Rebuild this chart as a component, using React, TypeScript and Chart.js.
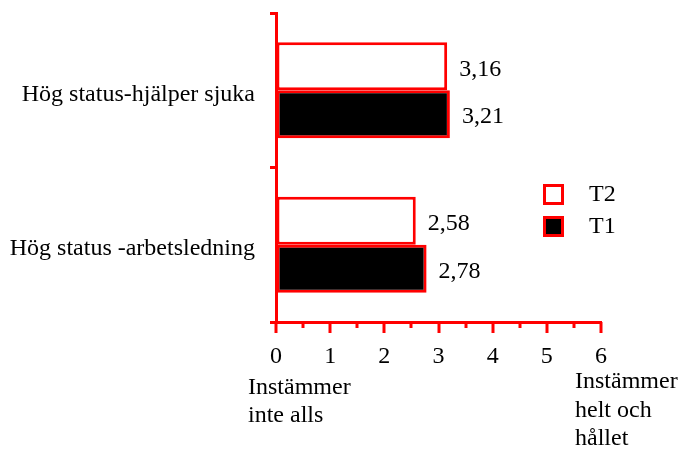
import { useEffect, useRef } from 'react';
import { Chart, registerables } from 'chart.js';

Chart.register(...registerables);

const categories = ['Hög status-hjälper sjuka', 'Hög status -arbetsledning'];
const seriesNames = ['T2', 'T1'];
const t2Values = [3.16, 2.58];
const t1Values = [3.21, 2.78];
const xMin = 0;
const xMax = 6;
const majorStep = 1;
const minorStep = 0.5;
const leftAxisNote = ['Instämmer', 'inte alls'];
const rightAxisNote = ['Instämmer', 'helt och', 'hållet'];

const RED = '#ff0000';
const FONT = '"Liberation Serif", "Times New Roman", serif';
const FS = 24;

const formatValue = (v: number) => v.toFixed(2).replace('.', ',');

const overlayPlugin = {
  id: 'overlay',
  afterDatasetsDraw(chart: any) {
    const ctx = chart.ctx;
    ctx.save();
    ctx.font = `${FS}px ${FONT}`;
    ctx.fillStyle = '#000';
    ctx.textAlign = 'left';
    ctx.textBaseline = 'middle';
    chart.data.datasets.forEach((ds: any, di: number) => {
      const meta = chart.getDatasetMeta(di);
      meta.data.forEach((el: any, i: number) => {
        ctx.fillText(formatValue(ds.data[i]), el.x + 12, el.y + 3);
      });
    });
    ctx.restore();
  },
  afterDraw(chart: any) {
    const ctx = chart.ctx;
    const xs = chart.scales.x;
    const area = chart.chartArea;
    ctx.save();
    ctx.strokeStyle = RED;
    ctx.lineWidth = 3;
    const axisY = area.bottom;
    for (let v = xMin; v <= xMax + 1e-9; v += minorStep) {
      const px = Math.round(xs.getPixelForValue(v));
      const isMajor = Math.abs(v / majorStep - Math.round(v / majorStep)) < 1e-9;
      const len = isMajor ? 11 : 6;
      ctx.beginPath();
      ctx.moveTo(px, axisY);
      ctx.lineTo(px, axisY + len);
      ctx.stroke();
    }
    ctx.font = `${FS}px ${FONT}`;
    ctx.fillStyle = '#000';
    ctx.textAlign = 'left';
    ctx.textBaseline = 'alphabetic';
    const x0 = xs.getPixelForValue(xMin);
    const x6 = xs.getPixelForValue(xMax);
    leftAxisNote.forEach((t, i) => ctx.fillText(t, x0 - 28, 394 + i * 28));
    rightAxisNote.forEach((t, i) => ctx.fillText(t, x6 - 26, 388 + i * 28.5));
    const legendFill = ['#ffffff', '#000000'];
    seriesNames.forEach((name, i) => {
      const by = 184 + i * 32;
      ctx.fillStyle = legendFill[i];
      ctx.fillRect(543, by, 21, 21);
      ctx.strokeStyle = RED;
      ctx.lineWidth = 3;
      ctx.strokeRect(544.5, by + 1.5, 18, 18);
      ctx.fillStyle = '#000';
      ctx.textBaseline = 'middle';
      ctx.fillText(name, 589, by + 11);
    });
    ctx.restore();
  },
};

export default function App() {
  const ref = useRef<HTMLCanvasElement | null>(null);
  useEffect(() => {
    if (!ref.current) return;
    const chart = new Chart(ref.current, {
      type: 'bar',
      data: {
        labels: categories,
        datasets: [
          {
            label: seriesNames[0],
            data: t2Values,
            backgroundColor: '#ffffff',
            borderColor: RED,
            borderWidth: 3,
            borderSkipped: false,
            categoryPercentage: 0.62,
            barPercentage: 1,
          },
          {
            label: seriesNames[1],
            data: t1Values,
            backgroundColor: '#000000',
            borderColor: RED,
            borderWidth: 3,
            borderSkipped: false,
            categoryPercentage: 0.62,
            barPercentage: 1,
          },
        ],
      },
      options: {
        indexAxis: 'y',
        animation: false,
        responsive: true,
        maintainAspectRatio: false,
        layout: { autoPadding: false, padding: { top: 13, right: 80, left: 0, bottom: 0 } },
        plugins: { legend: { display: false }, tooltip: { enabled: false } },
        scales: {
          x: {
            min: xMin,
            max: xMax,
            ticks: {
              stepSize: majorStep,
              color: '#000',
              font: { family: FONT, size: FS },
              padding: 20,
              maxRotation: 0,
            },
            grid: { drawOnChartArea: false, drawTicks: false },
            border: { color: RED, width: 3 },
            afterFit: (s: any) => {
              s.height = 128;
              s.paddingLeft = 0;
              s.paddingRight = 0;
            },
          },
          y: {
            ticks: {
              color: '#000',
              font: { family: FONT, size: FS },
              padding: 15,
              labelOffset: 4,
            },
            grid: {
              offset: true,
              drawOnChartArea: false,
              drawTicks: true,
              tickLength: 6,
              tickColor: RED,
              tickWidth: 3,
            },
            border: { color: RED, width: 3 },
            afterFit: (s: any) => {
              s.width = 276;
              s.paddingTop = 0;
              s.paddingBottom = 0;
            },
          },
        },
      },
      plugins: [overlayPlugin],
    } as any);
    return () => chart.destroy();
  }, []);
  return (
    <div style={{ position: 'fixed', left: 0, top: 0, width: 681, height: 450, background: '#fff' }}>
      <canvas ref={ref} />
    </div>
  );
}
